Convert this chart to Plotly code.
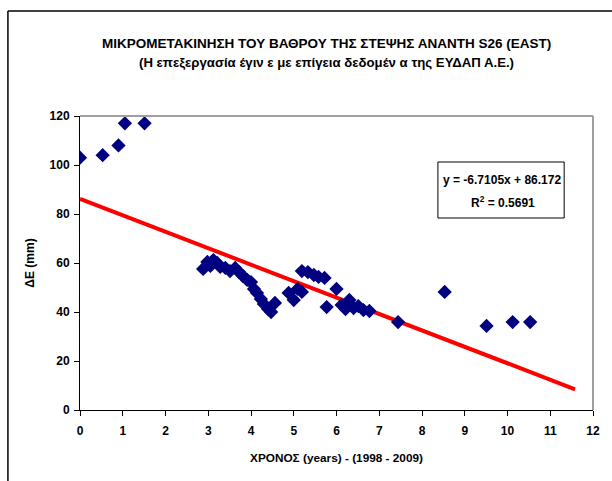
import plotly.graph_objects as go

# Time since start of monitoring (years) and horizontal displacement ΔE (mm)
years = [0.0, 0.53, 0.90, 1.05, 1.51,
         2.88, 2.98, 3.05, 3.12, 3.21, 3.28, 3.40, 3.51, 3.63, 3.72,
         3.81, 3.91, 4.00, 4.07, 4.14, 4.23, 4.30, 4.40, 4.47, 4.56,
         4.88, 5.00, 5.09, 5.19, 5.19, 5.33, 5.47, 5.58, 5.72, 5.77,
         6.00, 6.12, 6.21, 6.30, 6.40, 6.51, 6.63, 6.77,
         7.44, 8.53, 9.51, 10.12, 10.53]
delta_e = [103, 104, 108, 117, 117,
           57.6, 60.4, 58.8, 61.2, 60.0, 58.4, 58.0, 56.7, 58.0, 56.3,
           54.7, 53.1, 52.2, 49.4, 47.8, 45.3, 43.3, 41.2, 40.0, 43.7,
           47.8, 44.9, 49.4, 48.2, 56.7, 56.3, 55.1, 54.3, 53.9, 42.0,
           49.4, 42.9, 41.2, 44.9, 41.6, 42.4, 40.8, 40.4,
           35.9, 48.2, 34.3, 35.9, 35.9]

# Linear trend: y = slope * x + intercept
slope = -6.7105
intercept = 86.172
r_squared = 0.5691
trend_x = [0.0, 11.58]
trend_y = [slope * x + intercept for x in trend_x]

x_ticks = list(range(0, 13))
y_ticks = list(range(0, 121, 20))

FONT = "Arial, Liberation Sans, sans-serif"

fig = go.Figure()
fig.add_trace(go.Scatter(
    x=trend_x, y=trend_y, mode="lines",
    line=dict(color="#ff0000", width=4), hoverinfo="skip", showlegend=False))
fig.add_trace(go.Scatter(
    x=years, y=delta_e, mode="markers",
    marker=dict(symbol="diamond", size=11, color="#000080",
                line=dict(width=0)),
    showlegend=False))

fig.update_layout(
    width=612, height=481,
    margin=dict(l=80, r=16, t=116, b=71),
    paper_bgcolor="white", plot_bgcolor="white",
    font=dict(family=FONT, color="black"),
    xaxis=dict(range=[0, 12], tickvals=x_ticks, showgrid=False, zeroline=False,
               showline=True, linecolor="black", linewidth=1,
               ticks="outside", ticklen=5, tickcolor="black",
               ticklabelstandoff=5,
               tickfont=dict(size=12, family=FONT, weight="bold"),
               title=dict(text="<b>ΧΡΟΝΟΣ (years) - (1998 - 2009)</b>",
                          font=dict(size=11.8), standoff=16)),
    yaxis=dict(range=[0, 120], tickvals=y_ticks, showgrid=False, zeroline=False,
               showline=True, linecolor="black", linewidth=1,
               ticks="outside", ticklen=5, tickcolor="black",
               ticklabelstandoff=2,
               tickfont=dict(size=12, family=FONT, weight="bold"),
               title=dict(text="<b>ΔE (mm)</b>", font=dict(size=12), standoff=12)),
)

# Plot-area frame (top and right) and the outer chart border
fig.add_shape(type="line", xref="paper", yref="paper", x0=0, x1=1, y0=1, y1=1,
              line=dict(color="#a0a0a0", width=2))
fig.add_shape(type="line", xref="paper", yref="paper", x0=1, x1=1, y0=0, y1=1,
              line=dict(color="#a0a0a0", width=2))
fig.add_shape(type="line", xref="paper", yref="paper",
              x0=(7.5 - 80) / 516, x1=(640 - 80) / 516,
              y0=(410 - 11) / 294, y1=(410 - 11) / 294,
              line=dict(color="black", width=1.5))
fig.add_shape(type="line", xref="paper", yref="paper",
              x0=(7.5 - 80) / 516, x1=(7.5 - 80) / 516,
              y0=(410 - 11) / 294, y1=(410 - 500) / 294,
              line=dict(color="black", width=1.5))

# Title lines
fig.add_annotation(xref="paper", yref="paper", x=(328 - 80) / 516, y=(410 - 44) / 294,
                   text="<b>ΜΙΚΡΟΜΕΤΑΚΙΝΗΣΗ ΤΟΥ ΒΑΘΡΟΥ ΤΗΣ ΣΤΕΨΗΣ ΑΝΑΝΤΗ S26 (EAST)</b>",
                   showarrow=False, font=dict(size=13.5), xanchor="center", yanchor="middle")
fig.add_annotation(xref="paper", yref="paper", x=(328 - 80) / 516, y=(410 - 62) / 294,
                   text="<b>(Η επεξεργασία έγιν ε με επίγεια δεδομέν α της ΕΥΔΑΠ Α.Ε.)</b>",
                   showarrow=False, font=dict(size=13.2), xanchor="center", yanchor="middle")

# Regression equation box
fig.add_shape(type="rect", xref="paper", yref="paper",
              x0=(440 - 80) / 516, x1=(567 - 80) / 516,
              y0=(410 - 218) / 294, y1=(410 - 162) / 294,
              line=dict(color="black", width=1), fillcolor="white")
fig.add_annotation(xref="paper", yref="paper", x=(504 - 80) / 516, y=(410 - 180) / 294,
                   text=f"<b>y = {slope}x + {intercept}</b>",
                   showarrow=False, font=dict(size=12), xanchor="center", yanchor="middle")
fig.add_annotation(xref="paper", yref="paper", x=(505 - 80) / 516, y=(410 - 202) / 294,
                   text=f"<b>R<sup>2</sup> = {r_squared}</b>",
                   showarrow=False, font=dict(size=12), xanchor="center", yanchor="middle")

fig.write_html("out.html")
